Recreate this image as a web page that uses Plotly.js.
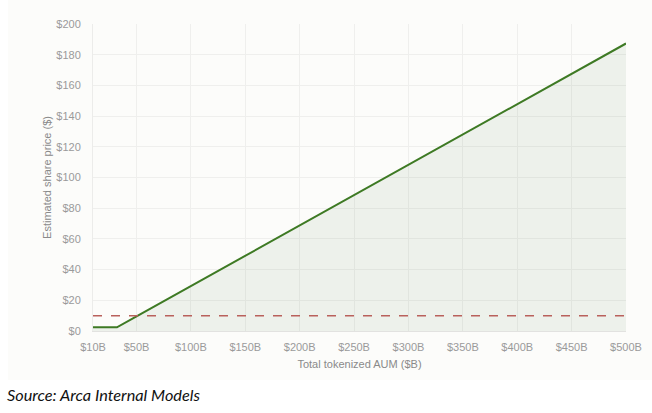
<!DOCTYPE html>
<html>
<head>
<meta charset="utf-8">
<script src="https://cdn.plot.ly/plotly-3.0.1.min.js"></script>
<style>
  html, body { margin: 0; padding: 0; background: #ffffff; }
  #wrap { position: relative; width: 652px; height: 413px; overflow: hidden; }
  #card { position: absolute; left: 8px; top: 0px; width: 644px; height: 380px; background: #fcfcfa; }
  #chart { position: absolute; left: 0; top: 0; width: 652px; height: 413px; }
  #source { position: absolute; left: 7px; top: 385px; font-family: "Lato", "Open Sans", sans-serif; font-style: italic; font-size: 16.3px; color: #111; }
</style>
</head>
<body>
<div id="wrap">
  <div id="card"></div>
  <div id="chart"></div>
  <div id="source">Source: Arca Internal Models</div>
</div>
<script>
// Data
const aumB = [10, 32, 50, 100, 150, 200, 250, 300, 350, 400, 450, 500];
const sharePrice = [2.4, 2.4, 9.5, 29.3, 49.0, 68.8, 88.5, 108.3, 128.0, 147.8, 167.5, 187.3];
const thresholdPrice = 10;
const xTickVals = [10, 50, 100, 150, 200, 250, 300, 350, 400, 450, 500];
const xTickText = ["$10B", "$50B", "$100B", "$150B", "$200B", "$250B", "$300B", "$350B", "$400B", "$450B", "$500B"];
const yTickVals = [0, 20, 40, 60, 80, 100, 120, 140, 160, 180, 200];
const yTickText = ["$0", "$20", "$40", "$60", "$80", "$100", "$120", "$140", "$160", "$180", "$200"];

const traces = [
  {
    x: aumB,
    y: sharePrice,
    type: "scatter",
    mode: "lines",
    fill: "tozeroy",
    fillcolor: "rgba(70,120,60,0.08)",
    line: { color: "#3e7a24", width: 2 },
    showlegend: false
  },
  {
    x: [aumB[0], aumB[aumB.length - 1]],
    y: [thresholdPrice, thresholdPrice],
    type: "scatter",
    mode: "lines",
    line: { color: "#b9615c", width: 1.5, dash: "dash" },
    showlegend: false
  }
];

const fam = "'Liberation Sans', Arial, Helvetica, sans-serif";
const tickFont = { family: fam, size: 11, color: "#9a9a9a" };
const titleFont = { family: fam, size: 11, color: "#8a8a8a" };

const layout = {
  width: 652,
  height: 413,
  margin: { l: 93, r: 26, t: 24, b: 82 },
  paper_bgcolor: "rgba(0,0,0,0)",
  plot_bgcolor: "rgba(0,0,0,0)",
  showlegend: false,
  font: { family: fam },
  xaxis: {
    range: [10, 500],
    tickmode: "array",
    tickvals: xTickVals,
    ticktext: xTickText,
    tickfont: tickFont,
    showgrid: true,
    gridcolor: "#efefed",
    gridwidth: 1,
    zeroline: false,
    showline: true,
    linecolor: "#e2e2e0",
    linewidth: 1,
    ticks: "outside",
    ticklen: 6,
    tickcolor: "rgba(0,0,0,0)",
    title: { text: "Total tokenized AUM ($B)", font: titleFont, standoff: 8 }
  },
  yaxis: {
    range: [0, 200],
    tickmode: "array",
    tickvals: yTickVals,
    ticktext: yTickText,
    tickfont: tickFont,
    showgrid: true,
    gridcolor: "#efefed",
    gridwidth: 1,
    zeroline: false,
    showline: true,
    linecolor: "#ececea",
    linewidth: 1,
    ticks: "outside",
    ticklen: 9,
    tickcolor: "rgba(0,0,0,0)",
    title: { text: "Estimated share price ($)", font: titleFont, standoff: 2 }
  }
};

Plotly.newPlot("chart", traces, layout, { displayModeBar: false, staticPlot: true });
</script>
</body>
</html>
